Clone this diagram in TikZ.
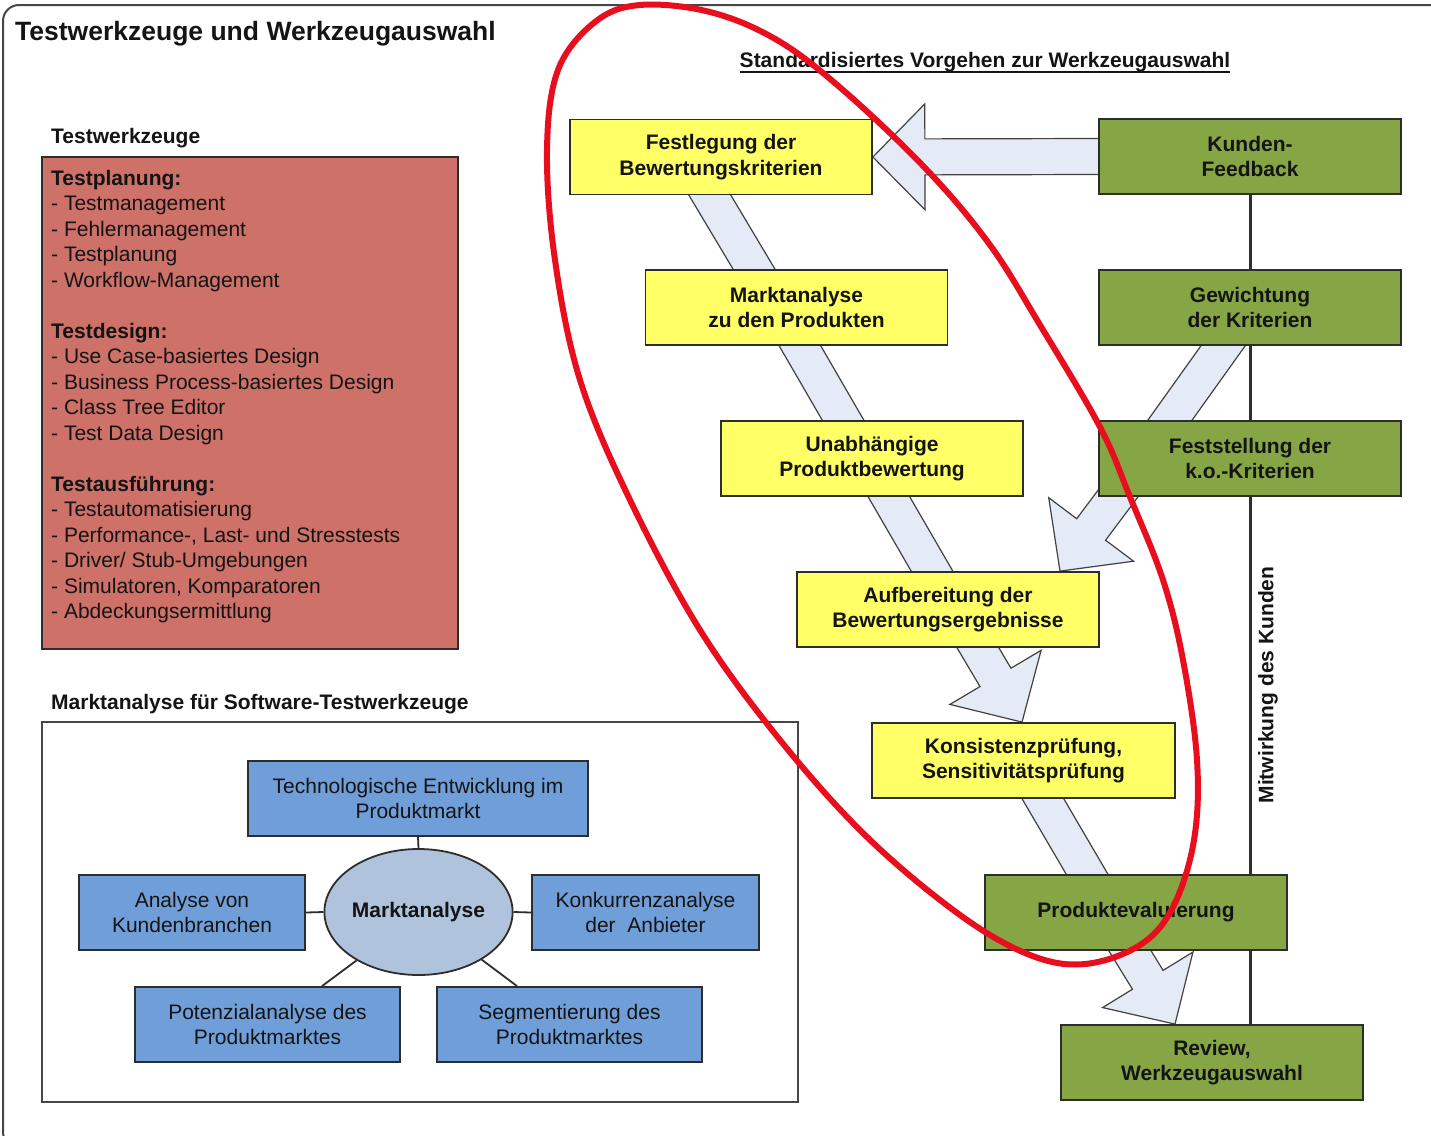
\documentclass[tikz,border=0pt]{standalone}
\usepackage{fontspec}
\setmainfont{Liberation Sans}
\usetikzlibrary{calc,shapes.geometric,backgrounds}

\definecolor{yel}{RGB}{255,255,102}
\definecolor{grn}{RGB}{134,165,69}
\definecolor{redc}{RGB}{205,113,105}
\definecolor{blu}{RGB}{112,158,216}
\definecolor{ellc}{RGB}{176,195,221}
\definecolor{flowfill}{RGB}{228,235,246}
\definecolor{flowline}{RGB}{65,65,65}
\definecolor{edge}{RGB}{45,45,45}
\definecolor{framec}{RGB}{70,70,70}
\definecolor{txt}{RGB}{20,20,20}
\definecolor{annot}{RGB}{232,14,30}

% straight band between two boxes (ends hidden under the boxes)
\newcommand\flowband[2]{%
  \coordinate (fa) at ($(#1)!-15pt!(#2)$);
  \coordinate (fb) at ($(#2)!-15pt!(#1)$);
  \draw[flow] ($(fa)!18pt!90:(fb)$) -- ($(fb)!18pt!-90:(fa)$) -- ($(fb)!18pt!90:(fa)$) -- ($(fa)!18pt!-90:(fb)$) -- cycle;}
% block arrow from a box edge to a tip
\newcommand\flowarrow[2]{%
  \coordinate (fa) at ($(#1)!-15pt!(#2)$);
  \coordinate (fh) at ($(#2)!52pt!(#1)$);
  \draw[flow] ($(fa)!18pt!90:(#2)$) -- ($(fh)!18pt!-90:(fa)$) -- ($(fh)!53pt!-90:(fa)$) -- (#2) -- ($(fh)!53pt!90:(fa)$) -- ($(fh)!18pt!90:(fa)$) -- ($(fa)!18pt!-90:(#2)$) -- cycle;}

\tikzset{
  lbl/.style={font=\fontsize{21}{25.5}\selectfont, text=txt},
  hdr/.style={font=\fontsize{21}{25.5}\selectfont\bfseries, text=txt, inner sep=0pt},
  stepbox/.style={font=\fontsize{21}{25.5}\selectfont\bfseries, text=txt, draw=edge, line width=1.8pt,
    minimum width=302pt, minimum height=75pt, align=center, inner sep=2pt},
  ybox/.style={stepbox, fill=yel},
  gbox/.style={stepbox, fill=grn},
  mbox/.style={lbl, draw=edge, line width=1.8pt, fill=blu, minimum height=75pt, align=center, inner sep=2pt},
  flow/.style={fill=flowfill, draw=flowline, line width=1.2pt, line join=miter},
  link/.style={draw=edge, line width=1.8pt},
}

\begin{document}
\begin{tikzpicture}[x=1pt,y=-1pt]
\useasboundingbox (0,0) rectangle (1431,1135);
\clip (0,0) rectangle (1431,1135);

% outer frame
\draw[draw=framec, line width=2pt, rounded corners=16pt] (3,5) rectangle (1445,1148);

% headings
\node[anchor=base west, inner sep=0pt, text=txt, font=\fontsize{26.5}{30}\selectfont\bfseries] (title) at (15,40.5) {Testwerkzeuge und Werkzeugauswahl};
\node[anchor=base west, hdr] (twhead) at (51,143.5) {Testwerkzeuge};
\node[anchor=base west, hdr] (mahead) at (51,709.5) {Marktanalyse für Software-Testwerkzeuge};
\node[anchor=base, hdr] (stdhead) at (985,67.5) {Standardisiertes Vorgehen zur Werkzeugauswahl};
\draw[line width=1.6pt, txt] ([yshift=-4.5pt]stdhead.base west) -- ([yshift=-4.5pt]stdhead.base east);

% tool categories
\node[draw=edge, line width=1.8pt, fill=redc, minimum width=416pt, minimum height=492pt, anchor=north west, inner sep=0pt] (twbox) at (41,156) {};
\node[lbl, anchor=north west, align=left, inner sep=0pt] (twlist) at ([shift={(10,14)}]twbox.north west) {%
\textbf{Testplanung:}\\
- Testmanagement\\
- Fehlermanagement\\
- Testplanung\\
- Workflow-Management\\[25.5pt]
\textbf{Testdesign:}\\
- Use Case-basiertes Design\\
- Business Process-basiertes Design\\
- Class Tree Editor\\
- Test Data Design\\[25.5pt]
\textbf{Testausführung:}\\
- Testautomatisierung\\
- Performance-, Last- und Stresstests\\
- Driver/ Stub-Umgebungen\\
- Simulatoren, Komparatoren\\
- Abdeckungsermittlung};

% market analysis
\node[draw=framec, line width=1.8pt, minimum width=756pt, minimum height=380pt, anchor=north west, inner sep=0pt] (maframe) at (41,721) {};
\node[mbox, minimum width=340pt] (tech) at (418,798.5) {Technologische Entwicklung im\\Produktmarkt};
\node[mbox, minimum width=226pt] (anal) at (192,912.5) {Analyse von\\Kundenbranchen};
\node[mbox, minimum width=227pt] (konk) at (645.5,912.5) {Konkurrenzanalyse\\der\ \ Anbieter};
\node[mbox, minimum width=265pt] (pot) at (267.5,1024.5) {Potenzialanalyse des\\Produktmarktes};
\node[mbox, minimum width=265pt] (seg) at (569.5,1024.5) {Segmentierung des\\Produktmarktes};
\node[ellipse, draw=edge, line width=1.8pt, fill=ellc, minimum width=188pt, minimum height=126pt, inner sep=0pt,
  font=\fontsize{21}{25.5}\selectfont\bfseries, text=txt] (ell) at (418.5,912) {Marktanalyse};

% selection procedure
\node[ybox] (festl) at (721,157) {Festlegung der\\Bewertungskriterien};
\node[ybox] (markt) at (796.5,307.5) {Marktanalyse\\zu den Produkten};
\node[ybox] (unabh) at (872,458.5) {Unabhängige\\Produktbewertung};
\node[ybox] (aufb) at (948,609.5) {Aufbereitung der\\Bewertungsergebnisse};
\node[ybox, minimum width=303pt] (kons) at (1023.5,760.5) {Konsistenzprüfung,\\Sensitivitätsprüfung};
\node[gbox] (kunden) at (1250,156.5) {Kunden-\\Feedback};
\node[gbox] (gew) at (1250,307.5) {Gewichtung\\der Kriterien};
\node[gbox] (fest) at (1250,458.5) {Feststellung der\\k.o.-Kriterien};
\node[gbox] (prod) at (1136,912.5) {Produktevaluierung};
\node[gbox] (rev) at (1212,1062.5) {Review,\\Werkzeugauswahl};
\node[rotate=90, hdr] (mit) at (1268,685) {Mitwirkung des Kunden};

% anchor points of the flow bands
\coordinate (bA1) at ([xshift=-11pt]festl.south);
\coordinate (bA2) at ([xshift=-42.5pt]markt.north);
\coordinate (bB1) at ([xshift=3.5pt]markt.south);
\coordinate (bB2) at ([xshift=-29pt]unabh.north);
\coordinate (bC1) at ([xshift=17pt]unabh.south);
\coordinate (bC2) at ([xshift=-16pt]aufb.north);
\coordinate (aD1) at ([xshift=30pt]aufb.south);
\coordinate (aD2) at ([xshift=-1.5pt]kons.north);
\coordinate (bE1) at ([xshift=19.5pt]kons.south);
\coordinate (bE2) at ([xshift=-49pt]prod.north);
\coordinate (aF1) at ([xshift=-6pt]prod.south);
\coordinate (aF2) at ([xshift=-37pt]rev.north);
\coordinate (bG1) at ([xshift=-27pt]gew.south);
\coordinate (bG2) at ([xshift=-80pt]fest.north);
\coordinate (aH1) at ([xshift=-134.5pt]fest.south);
\coordinate (aH2) at ([xshift=112pt]aufb.north);
\coordinate (potc) at ([xshift=54.5pt]pot.north);
\coordinate (segc) at ([xshift=-52.5pt]seg.north);

\begin{pgfonlayer}{background}
  \fill[white] (0,0) rectangle (1431,1135);
  % customer involvement line
  \draw[draw=edge, line width=3pt] (kunden.south) -- (kunden.south |- rev.north);
  % flow
  \flowarrow{kunden.west}{festl.east}
  \flowband{bA1}{bA2}
  \flowband{bB1}{bB2}
  \flowband{bC1}{bC2}
  \flowarrow{aD1}{aD2}
  \flowband{bE1}{bE2}
  \flowarrow{aF1}{aF2}
  \flowband{bG1}{bG2}
  \flowarrow{aH1}{aH2}
  % market analysis links
  \draw[link] (tech.south) -- (ell.north);
  \draw[link] (anal.east) -- (ell.west);
  \draw[link] (konk.west) -- (ell.east);
  \draw[link] (potc) -- (ell.-142);
  \draw[link] (segc) -- (ell.-37);
\end{pgfonlayer}

% hand-drawn highlight
\draw[draw=annot, line width=6pt] plot[smooth cycle, tension=0.6] coordinates {
  (640,5) (710,12) (777,40) (843,90) (927,170) (990,245) (1040,325) (1100,427) (1130,497)
  (1163,580) (1183,660) (1197,760) (1194,840) (1173,907) (1140,945) (1085,964) (1030,955)
  (960,915) (867,837) (780,740) (700,630) (630,500) (580,380) (555,260) (547,150) (558,70) (595,22)};
\end{tikzpicture}
\end{document}
